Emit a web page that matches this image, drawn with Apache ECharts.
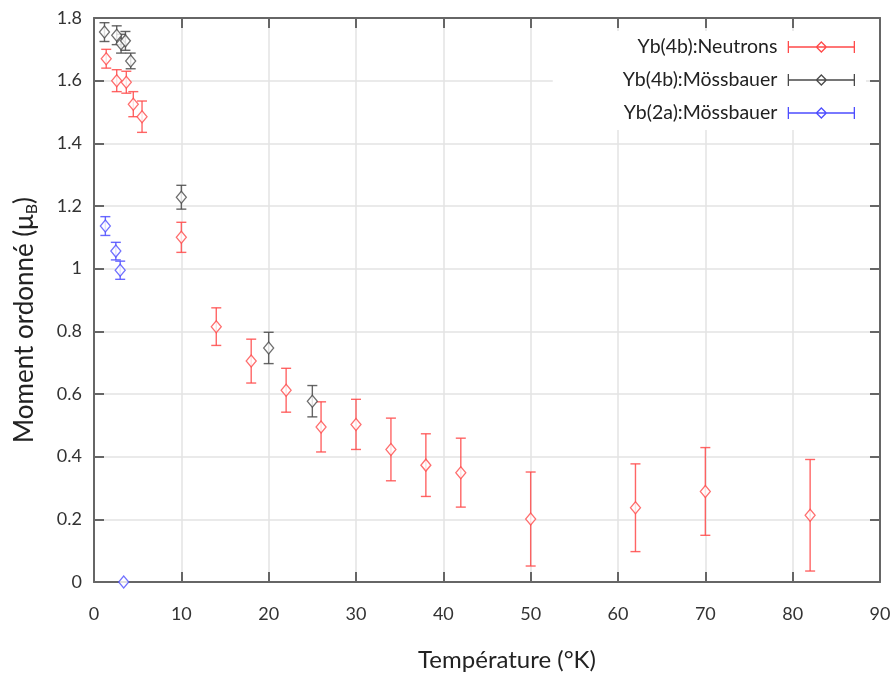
<!DOCTYPE html>
<html>
<head>
<meta charset="utf-8">
<script src="https://cdn.jsdelivr.net/npm/echarts@6/dist/echarts.min.js"></script>
<style>
  html, body { margin: 0; padding: 0; background: #fff; }
  #main { width: 896px; height: 680px; }
</style>
</head>
<body>
<div id="main"></div>
<script>
// Yb(4b) neutrons
var neutronT   = [1.4, 2.6, 3.7, 4.5, 5.5, 10, 14, 18, 22, 26, 30, 34, 38, 42, 50, 62, 70, 82];
var neutronM   = [1.67, 1.60, 1.595, 1.525, 1.485, 1.10, 0.815, 0.705, 0.612, 0.495, 0.503, 0.423, 0.373, 0.349, 0.201, 0.237, 0.289, 0.213];
var neutronErr = [0.03, 0.035, 0.035, 0.04, 0.05, 0.048, 0.06, 0.07, 0.07, 0.08, 0.08, 0.1, 0.1, 0.11, 0.15, 0.14, 0.14, 0.178];

// Yb(4b) Mössbauer
var moss4bT   = [1.2, 2.6, 3.1, 3.6, 4.2, 10, 20, 25];
var moss4bM   = [1.755, 1.745, 1.718, 1.727, 1.663, 1.228, 0.747, 0.577];
var moss4bErr = [0.03, 0.03, 0.03, 0.03, 0.025, 0.038, 0.05, 0.05];

// Yb(2a) Mössbauer
var moss2aT   = [1.3, 2.5, 3.0, 3.4];
var moss2aM   = [1.136, 1.056, 0.995, 0];
var moss2aErr = [0.03, 0.028, 0.029, 0];

var legendNames = ['Yb(4b):Neutrons', 'Yb(4b):Mössbauer', 'Yb(2a):Mössbauer'];
var colors = ['#ff4a4a', '#4a4a4a', '#4d4dff'];

var FONT = 'Lato';
var legendIcon = 'path://M0,6L66,6M0,0L0,12M66,0L66,12M33,1L38,6L33,11L28,6Z';

function pack(t, m, e) {
    var out = [];
    for (var i = 0; i < t.length; i++) out.push([t[i], m[i], e[i]]);
    return out;
}

// barres d'erreur verticales
function errorBars(name, data, color) {
    return {
        name: name,
        type: 'custom',
        data: data,
        z: 2,
        renderItem: function (params, api) {
            var x = api.value(0), y = api.value(1), e = api.value(2);
            if (!e) return null;
            var hi = api.coord([x, y + e]);
            var lo = api.coord([x, y - e]);
            var w = 5;
            var st = { stroke: color, lineWidth: 1.4, opacity: 0.85 };
            return {
                type: 'group',
                children: [
                    { type: 'line', shape: { x1: hi[0], y1: hi[1], x2: lo[0], y2: lo[1] }, style: st },
                    { type: 'line', shape: { x1: hi[0] - w, y1: hi[1], x2: hi[0] + w, y2: hi[1] }, style: st },
                    { type: 'line', shape: { x1: lo[0] - w, y1: lo[1], x2: lo[0] + w, y2: lo[1] }, style: st }
                ]
            };
        }
    };
}

function points(name, data, color) {
    return {
        name: name,
        type: 'scatter',
        data: data,
        z: 3,
        symbol: 'diamond',
        symbolSize: [10, 12],
        itemStyle: { color: '#fff', borderColor: color, borderWidth: 1.3 }
    };
}

var sets = [
    pack(neutronT, neutronM, neutronErr),
    pack(moss4bT, moss4bM, moss4bErr),
    pack(moss2aT, moss2aM, moss2aErr)
];

var series = [];
for (var i = 0; i < sets.length; i++) {
    series.push(errorBars(legendNames[i], sets[i], colors[i]));
    series.push(points(legendNames[i], sets[i], colors[i]));
}

var axisLineStyle = { color: '#666', width: 2 };
var gridLineStyle = { color: '#e3e3e3', width: 1.5 };

var myChart = echarts.init(document.getElementById('main'));
myChart.setOption({
    backgroundColor: '#fff',
    animation: false,
    textStyle: { fontFamily: FONT },
    grid: { left: 94, right: 16, top: 18, bottom: 98, containLabel: false },
    legend: {
        orient: 'vertical',
        right: 30,
        top: 31,
        align: 'right',
        backgroundColor: '#fff',
        padding: [6, 11, 7, 70],
        itemWidth: 66,
        itemHeight: 12,
        itemGap: 13,
        textStyle: { fontFamily: FONT, fontSize: 19.5, lineHeight: 20, color: '#222', padding: [0, 6, 0, 0] },
        data: legendNames.map(function (n, i) {
            return {
                name: n,
                icon: legendIcon,
                itemStyle: { color: '#fff', borderColor: colors[i], borderWidth: 1.3 }
            };
        })
    },
    xAxis: [{
        type: 'value',
        min: 0, max: 90, interval: 10,
        position: 'bottom',
        name: 'Température (°K)',
        nameLocation: 'middle',
        nameGap: 66,
        nameTextStyle: { fontFamily: FONT, fontSize: 24, color: '#222', padding: [0, 0, 0, 40] },
        axisLine: { show: true, onZero: false, lineStyle: axisLineStyle },
        axisTick: { show: true, inside: true, length: 10, lineStyle: axisLineStyle },
        axisLabel: { fontSize: 18, color: '#333', margin: 23 },
        splitLine: { show: true, lineStyle: gridLineStyle }
    }, {
        type: 'value',
        min: 0, max: 90, interval: 10,
        position: 'top',
        axisLine: { show: true, onZero: false, lineStyle: axisLineStyle },
        axisTick: { show: true, inside: true, length: 10, lineStyle: axisLineStyle },
        axisLabel: { show: false },
        splitLine: { show: false }
    }],
    yAxis: [{
        type: 'value',
        min: 0, max: 1.8, interval: 0.2,
        position: 'left',
        name: '{a|Moment ordonné (μ}{s|B}{a|)}',
        nameLocation: 'middle',
        nameGap: 54,
        nameTextStyle: {
            padding: [0, 40, 0, 0],
            rich: {
                a: { fontFamily: FONT, fontSize: 26, color: '#222', lineHeight: 30, verticalAlign: 'middle' },
                s: { fontFamily: FONT, fontSize: 16, color: '#222', lineHeight: 16, verticalAlign: 'bottom', padding: [10, 0, 0, 0] }
            }
        },
        axisLine: { show: true, onZero: false, lineStyle: axisLineStyle },
        axisTick: { show: true, inside: true, length: 10, lineStyle: axisLineStyle },
        axisLabel: { fontSize: 18, color: '#333', margin: 12 },
        splitLine: { show: true, lineStyle: gridLineStyle }
    }, {
        type: 'value',
        min: 0, max: 1.8, interval: 0.2,
        position: 'right',
        axisLine: { show: true, onZero: false, lineStyle: axisLineStyle },
        axisTick: { show: true, inside: true, length: 10, lineStyle: axisLineStyle },
        axisLabel: { show: false },
        splitLine: { show: false }
    }],
    series: series
});
</script>
</body>
</html>
